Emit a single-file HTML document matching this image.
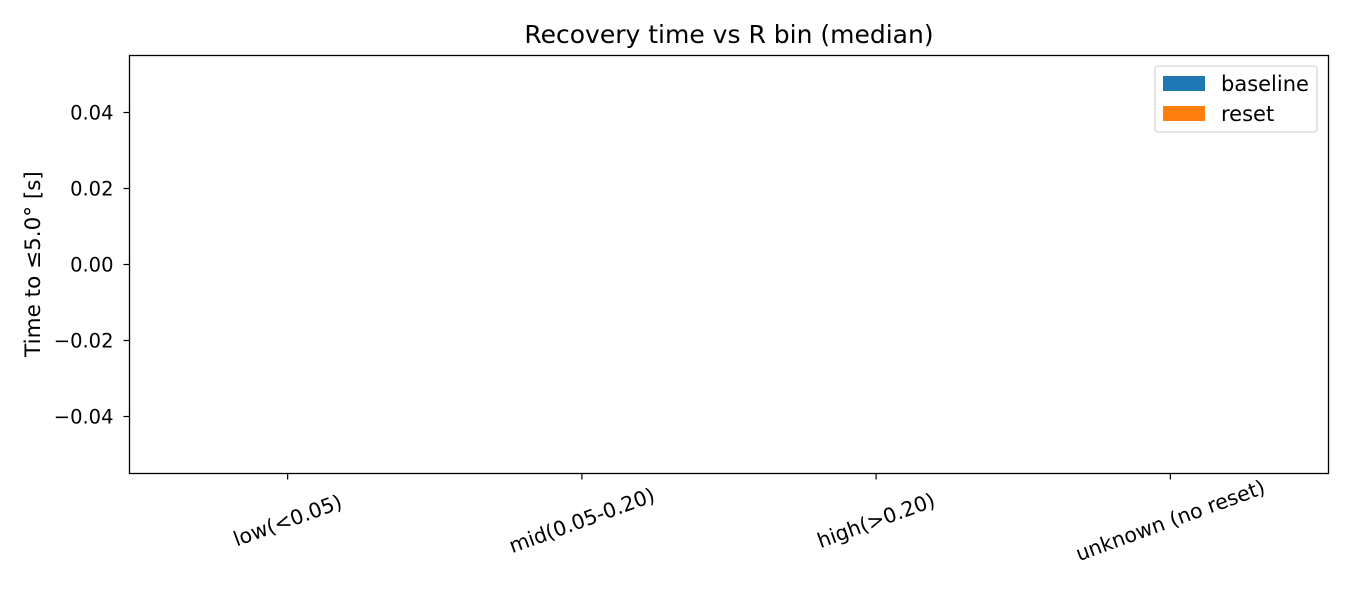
<!DOCTYPE html>
<html><head><meta charset="utf-8"><style>
body{margin:0;background:#fff;}
svg{display:block;font-family:"DejaVu Sans","Liberation Sans",sans-serif;}
</style></head><body>
<svg id="chart" width="1350" height="600">
<rect width="1350" height="600" fill="#fff"/>
<text x="729" y="43" font-size="25" text-anchor="middle">Recovery time vs R bin (median)</text>
<g id="marks"></g>
<g id="yaxis"></g>
<g id="xaxis"></g>
<rect x="129.5" y="55.5" width="1199" height="418" fill="none" stroke="#000" stroke-width="1.3"/>
<text transform="translate(40,264) rotate(-90)" font-size="21.5" text-anchor="middle">Time to ≤5.0° [s]</text>
<g>
<rect x="1155" y="66" width="162" height="66" rx="3" fill="#fff" stroke="#ccc"/>
<g>
<rect x="1163" y="76" width="42" height="15" fill="#1f77b4"/>
<text x="1221" y="91" font-size="21">baseline</text></g>
<g>
<rect x="1163" y="106" width="42" height="15" fill="#ff7f0e"/>
<text x="1221" y="121" font-size="21">reset</text></g>
</g>
</svg>
<script>
const categories = ["low(<0.05)", "mid(0.05-0.20)", "high(>0.20)", "unknown (no reset)"];
const baselineValues = [null, null, null, null];
const resetValues = [null, null, null, null];
const yTicks = [0.04, 0.02, 0.00, -0.02, -0.04];
const yTickLabels = ["0.04", "0.02", "0.00", "\u22120.02", "\u22120.04"];

const NS = "http://www.w3.org/2000/svg";
const L = 129.5, R = 1328.5, T = 55.5, B = 473.5;
const yMin = -0.055, yMax = 0.055;
const xMin = -0.5375, xMax = categories.length - 1 + 0.5375;
function xs(v){ return L + (v - xMin) / (xMax - xMin) * (R - L); }
function ys(v){ return B - (v - yMin) / (yMax - yMin) * (B - T); }
function mk(tag, attrs, parent){ const e = document.createElementNS(NS, tag); for (const k in attrs) e.setAttribute(k, attrs[k]); parent.appendChild(e); return e; }

const ya = document.getElementById('yaxis');
yTicks.forEach((t, i) => {
  const y = ys(t);
  const tk = mk('line', {x1: L - 6, x2: L, y1: y, y2: y, stroke: '#000', 'stroke-width': 1.2}, ya);
  
  
  const tx = mk('text', {x: L - 16, y: y + 7, 'font-size': 19.5, 'text-anchor': 'end'}, ya);
  tx.textContent = yTickLabels[i];
  
  
});
const xa = document.getElementById('xaxis');
categories.forEach((c, i) => {
  const x = xs(i);
  const tk = mk('line', {x1: x, x2: x, y1: B, y2: B + 6, stroke: '#000', 'stroke-width': 1.2}, xa);
  
  
  const tx = mk('text', {x: 0, y: 7, 'font-size': 20.5, 'text-anchor': 'middle', transform: `translate(${x},${B + 47}) rotate(-20)`}, xa);
  tx.textContent = c;
  
  
});
const mg = document.getElementById('marks');
const bw = 0.35;
function drawBars(vals, off, color, nm){
  vals.forEach((v, i) => {
    if (v === null || v === undefined || isNaN(v)) return;
    const x0 = xs(i + off - bw / 2), x1 = xs(i + off + bw / 2);
    const y0 = ys(Math.max(v, 0)), y1 = ys(Math.min(v, 0));
    const r = mk('rect', {x: x0, y: y0, width: x1 - x0, height: y1 - y0, fill: color}, mg);
    
    
  });
}
drawBars(baselineValues, -bw / 2, '#1f77b4', 'bar-baseline');
drawBars(resetValues, bw / 2, '#ff7f0e', 'bar-reset');
</script>
</body></html>
